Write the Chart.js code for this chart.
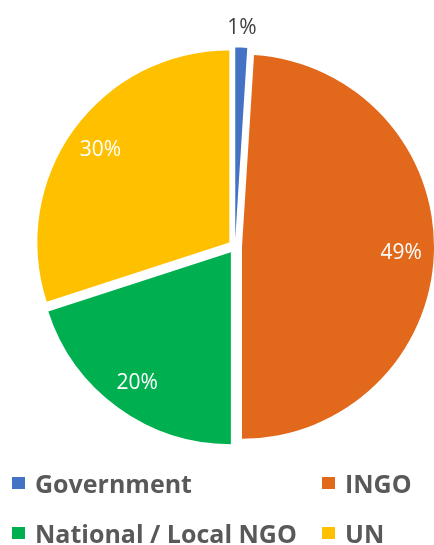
<!DOCTYPE html>
<html>
<head>
<meta charset="utf-8">
<script src="https://cdn.jsdelivr.net/npm/chart.js@4.4.1/dist/chart.umd.min.js"></script>
<style>
  body { margin: 0; background: #fff; }
  #wrap { position: relative; width: 434px; height: 545px; overflow: hidden; }
  #legend {
    position: absolute; left: 12px; top: 468px;
    display: grid; grid-template-columns: 310px auto; grid-auto-rows: 50px;
    font-family: "Open Sans", sans-serif; font-weight: bold; font-size: 25px; color: #595959;
  }
  .item { display: flex; align-items: center; height: 30px; white-space: nowrap; }
  .box { width: 13px; height: 12px; margin-right: 10px; flex: none; }
</style>
</head>
<body>
<div id="wrap">
  <canvas id="pieChart" width="434" height="545"></canvas>
  <div id="legend"></div>
</div>
<script>
// Share of funding by type of organisation
const categories = ['Government', 'INGO', 'National / Local NGO', 'UN'];
const shares = [1, 49, 20, 30];
const colors = ['#4472C4', '#E2681B', '#00B050', '#FFC000'];

const EXPLODE = 7;   // px each slice is pulled out of the centre

document.addEventListener("DOMContentLoaded", function() {
    // pull every slice out along its middle angle (same radius for all)
    const explodePlugin = {
        id: 'explode',
        afterDatasetUpdate(chart, args) {
            args.meta.data.forEach(arc => {
                const mid = (arc.startAngle + arc.endAngle) / 2;
                arc.x += Math.cos(mid) * EXPLODE;
                arc.y += Math.sin(mid) * EXPLODE;
            });
        }
    };

    // percentage labels: white inside, grey outside for tiny slices
    const labelPlugin = {
        id: 'pieLabels',
        afterDatasetsDraw(chart) {
            const ctx = chart.ctx;
            const meta = chart.getDatasetMeta(0);
            const total = shares.reduce((a, b) => a + b, 0);
            ctx.save();
            ctx.font = '21px "Open Sans", sans-serif';
            ctx.textAlign = 'center';
            ctx.textBaseline = 'alphabetic';
            meta.data.forEach((arc, i) => {
                const pct = Math.round(shares[i] / total * 100);
                const mid = (arc.startAngle + arc.endAngle) / 2;
                let r, color;
                if (pct < 5) {
                    r = arc.outerRadius + 21;
                    color = '#404040';
                } else {
                    r = arc.outerRadius * 0.83;
                    color = '#ffffff';
                }
                ctx.fillStyle = color;
                // baseline placed so the digits are centred on the point
                ctx.fillText(pct + '%', arc.x + Math.cos(mid) * r, arc.y + Math.sin(mid) * r + 7.5);
            });
            ctx.restore();
        }
    };

    const ctx = document.getElementById('pieChart').getContext('2d');
    new Chart(ctx, {
        type: 'pie',
        data: {
            labels: categories,
            datasets: [{
                data: shares,
                backgroundColor: colors,
                borderWidth: 0,
                radius: 192
            }]
        },
        options: {
            responsive: false,
            animation: false,
            layout: { padding: { left: 36, right: 0, top: 0, bottom: 52 } },
            plugins: {
                legend: { display: false },
                tooltip: { enabled: false }
            }
        },
        plugins: [explodePlugin, labelPlugin]
    });

    // legend, two columns like the original
    const legend = document.getElementById('legend');
    categories.forEach((name, i) => {
        const item = document.createElement('div');
        item.className = 'item';
        item.innerHTML = `<span class="box" style="background:${colors[i]}"></span><span>${name}</span>`;
        legend.appendChild(item);
    });
});
</script>
</body>
</html>
